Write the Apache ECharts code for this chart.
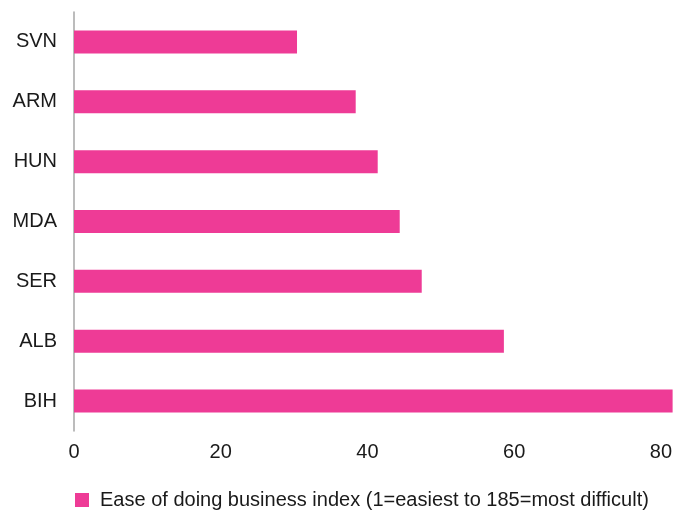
<!DOCTYPE html>
<html>
<head>
<meta charset="utf-8">
<script src="https://cdn.jsdelivr.net/npm/echarts@6/dist/echarts.min.js"></script>
<style>
html,body{margin:0;padding:0;background:#fff;}
#chart{width:675px;height:510px;}
</style>
</head>
<body>
<div id="chart"></div>
<script>
const categories = ["BIH", "ALB", "SER", "MDA", "HUN", "ARM", "SVN"];
const values = [81.6, 58.6, 47.4, 44.4, 41.4, 38.4, 30.4];
const seriesName = "Ease of doing business index (1=easiest to 185=most difficult)";
const xTicks = [0, 20, 40, 60, 80];

const chart = echarts.init(document.getElementById('chart'), null, {renderer: 'canvas'});
const fontFamily = 'Liberation Sans, Arial, sans-serif';
chart.setOption({
  animation: false,
  backgroundColor: '#ffffff',
  grid: {left: 74, right: 13, top: 12, height: 419, containLabel: false},
  legend: {
    data: [seriesName],
    left: 75,
    top: 490,
    padding: 0,
    itemWidth: 14,
    itemHeight: 14,
    icon: 'rect',
    textStyle: {fontFamily: fontFamily, fontSize: 20, color: '#1a1a1a', padding: [0, 0, 0, 6]}
  },
  xAxis: {
    type: 'value',
    min: xTicks[0],
    max: xTicks[xTicks.length - 1],
    interval: 20,
    axisLine: {show: false},
    axisTick: {show: false},
    splitLine: {show: false},
    axisLabel: {fontFamily: fontFamily, fontSize: 20, color: '#1a1a1a', margin: 11}
  },
  yAxis: {
    type: 'category',
    data: categories,
    axisLine: {show: true, lineStyle: {color: '#a6a6a6', width: 1.5}},
    axisTick: {show: false},
    axisLabel: {fontFamily: fontFamily, fontSize: 20, color: '#1a1a1a', margin: 17}
  },
  series: [{
    name: seriesName,
    type: 'bar',
    data: values,
    barWidth: 23,
    clip: false,
    itemStyle: {color: '#EE3B96'}
  }]
});
</script>
</body>
</html>
